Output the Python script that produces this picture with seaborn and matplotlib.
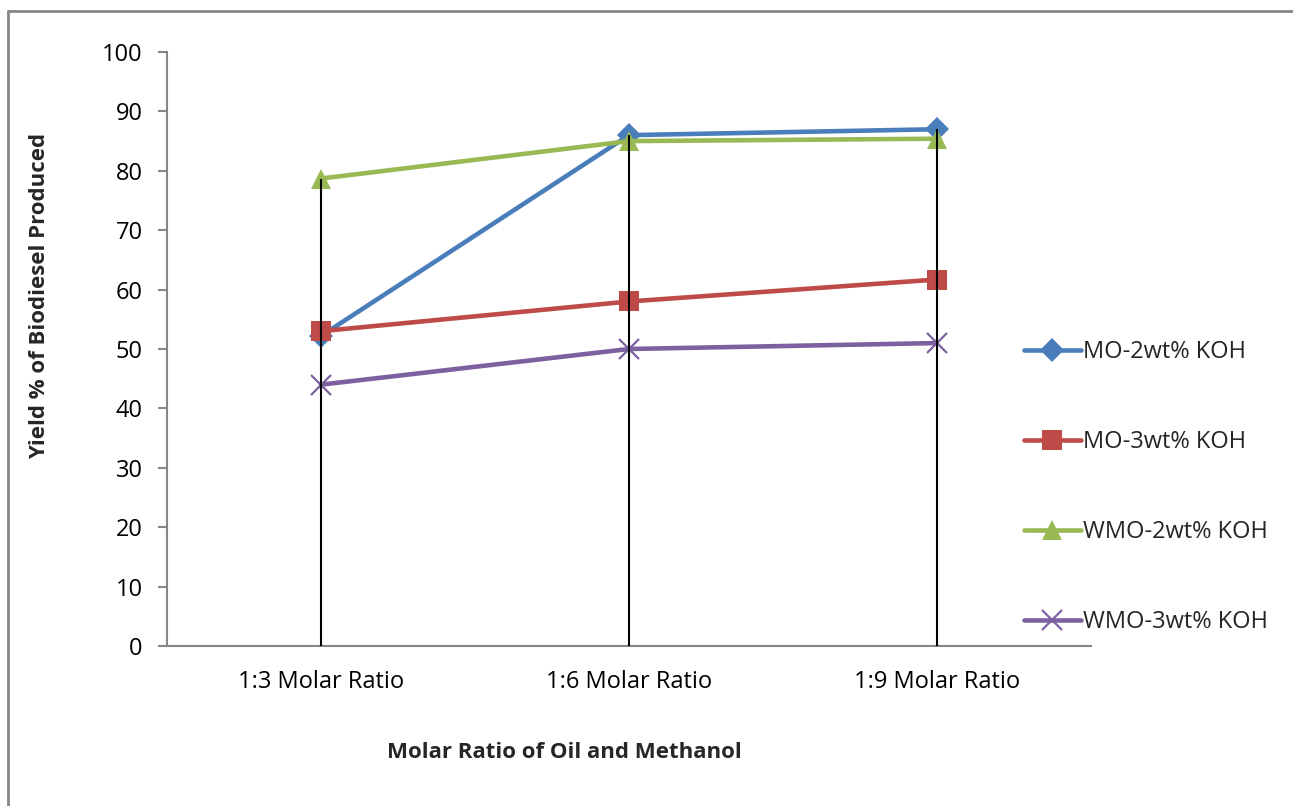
import matplotlib
matplotlib.use("Agg")
import matplotlib.pyplot as plt
from matplotlib.lines import Line2D
import seaborn as sns
import pandas as pd

ratios = ["1:3 Molar Ratio", "1:6 Molar Ratio", "1:9 Molar Ratio"]
series_names = ["MO-2wt% KOH", "MO-3wt% KOH", "WMO-2wt% KOH", "WMO-3wt% KOH"]
mo_2wt = [52.2, 86.0, 87.0]
mo_3wt = [53.0, 58.0, 61.7]
wmo_2wt = [78.7, 85.0, 85.4]
wmo_3wt = [44.0, 50.0, 51.0]
y_ticks = [0, 10, 20, 30, 40, 50, 60, 70, 80, 90, 100]

values = [mo_2wt, mo_3wt, wmo_2wt, wmo_3wt]
colors = ["#4A7EBB", "#BE4B48", "#98B954", "#7D60A0"]
markers = ["D", "s", "^", "x"]
msizes = [12, 14, 14, 14]

sns.set_theme(style="white")
plt.rcParams["font.family"] = ["Open Sans", "DejaVu Sans"]

W, H = 1293, 806
fig = plt.figure(figsize=(W / 100, H / 100), dpi=100)
ax = fig.add_axes([167 / W, 1 - 646 / H, (1091 - 167) / W, (646 - 52) / H])

rows = []
for name, vals in zip(series_names, values):
    for r, v in zip(ratios, vals):
        rows.append({"ratio": r, "yield": v, "series": name})
df = pd.DataFrame(rows)

handles = []
for name, col, mk, ms in zip(series_names, colors, markers, msizes):
    sub = df[df["series"] == name]
    mew = 1.6 if mk == "x" else 0
    sns.lineplot(data=sub, x="ratio", y="yield", ax=ax, color=col, linewidth=3.3,
                 marker=mk, markersize=ms, markeredgewidth=mew, markeredgecolor=col,
                 sort=False, legend=False, zorder=3)
    handles.append(Line2D([0], [0], color=col, linewidth=3.3, marker=mk, markersize=ms,
                          markeredgewidth=mew, markeredgecolor=col, solid_capstyle="round"))

# drop lines from the axis up to the highest value in each category
tops = [max(v[i] for v in values) for i in range(len(ratios))]
ax.vlines(range(len(ratios)), 0, tops, colors="black", linewidth=1.5, zorder=4)

ax.set_xlim(-0.5, 2.5)
ax.set_ylim(0, 100)
ax.set_yticks(y_ticks)
ax.set_xticks(range(len(ratios)))
ax.set_xticklabels(ratios)

for s in ["top", "right"]:
    ax.spines[s].set_visible(False)
for s in ["left", "bottom"]:
    ax.spines[s].set_color("#868686")
    ax.spines[s].set_linewidth(1.5)

ax.tick_params(axis="y", which="major", left=True, length=6.5, width=1.5, color="#868686",
               labelsize=17, pad=11, labelcolor="black")
ax.tick_params(axis="x", which="major", bottom=False, labelsize=17, pad=11, labelcolor="black")
ax.grid(False)

ax.set_xlabel("Molar Ratio of Oil and Methanol", fontsize=16, fontweight="bold")
ax.set_ylabel("Yield % of Biodiesel Produced", fontsize=16, fontweight="bold")
ax.xaxis.set_label_coords((564 - 167) / 924, (646 - 752) / 594)
ax.xaxis.label.set_va("center")
ax.yaxis.set_label_coords((40 - 167) / 924, (646 - 296) / 594)
ax.yaxis.label.set_va("center")

fig.legend(handles, series_names, loc="upper left", bbox_to_anchor=(1024 / W, 1 - 340 / H),
           frameon=False, fontsize=17, handlelength=2.4, handletextpad=0.1,
           labelspacing=2.8, borderaxespad=0, borderpad=0)

# outer chart frame
fig.add_artist(Line2D([8 / W, 8 / W], [0, 1 - 11 / H], color="#868686", linewidth=2,
                      transform=fig.transFigure))
fig.add_artist(Line2D([8 / W, 1], [1 - 11 / H, 1 - 11 / H], color="#868686", linewidth=2,
                      transform=fig.transFigure))

fig.savefig("out.png", dpi=100)
